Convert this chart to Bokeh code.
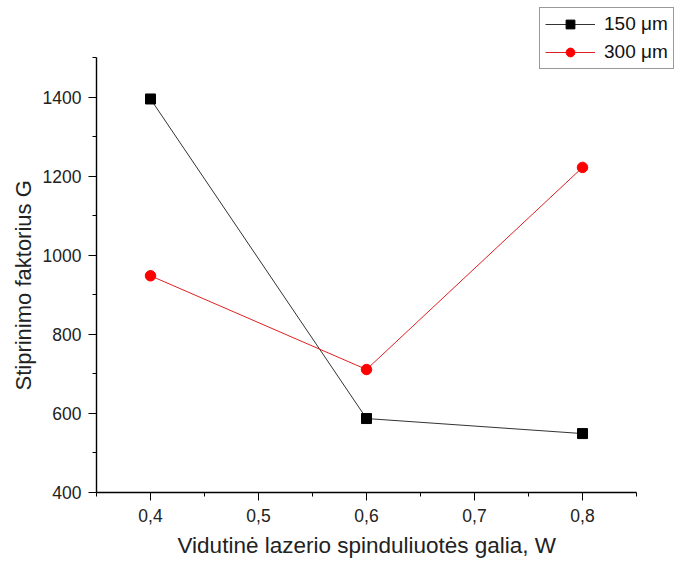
from bokeh.plotting import figure
from bokeh.models import (Range1d, FixedTicker, CustomJSTickFormatter, Legend,
                          LegendItem, Title)
from bokeh.embed import file_html
from bokeh.resources import INLINE

# Average laser power (W) and amplification factor G for two spot sizes
power = [0.4, 0.6, 0.8]
g_150 = [1395, 587, 549]
g_300 = [948, 711, 1222]
series_labels = ["150 \u03bcm", "300 \u03bcm"]

x_ticks = [0.4, 0.5, 0.6, 0.7, 0.8]
x_minor = [0.35, 0.45, 0.55, 0.65, 0.75, 0.85]
y_ticks = [400, 600, 800, 1000, 1200, 1400]
y_minor = [500, 700, 900, 1100, 1300, 1500]

FONT = "Liberation Sans"

# The frame reaches the top and right edges so the legend can sit in the
# corner; the visible axes are limited with bounds.
p = figure(width=683, height=568, output_backend="svg", toolbar_location=None,
           x_range=Range1d(0.35, 0.8935), y_range=Range1d(400, 1644),
           min_border_left=96, min_border_right=0, min_border_top=0,
           min_border_bottom=76)
p.outline_line_color = None
p.grid.visible = False
p.background_fill_color = "white"
p.border_fill_color = "white"

l1 = p.line(power, g_150, line_color="#333333", line_width=1)
m1 = p.scatter(power, g_150, marker="square", size=10, fill_color="black",
               line_color="black")
l2 = p.line(power, g_300, line_color="#e02020", line_width=1)
m2 = p.scatter(power, g_300, marker="circle", size=10.5, fill_color="#ff0000",
               line_color="#ff0000")

for ax in (p.xaxis[0], p.yaxis[0]):
    ax.axis_line_color = "black"
    ax.axis_line_width = 1.4
    ax.major_tick_in = 0
    ax.major_tick_out = 8
    ax.minor_tick_in = 0
    ax.minor_tick_out = 4
    ax.major_tick_line_color = "black"
    ax.minor_tick_line_color = "black"
    ax.major_label_text_font = FONT
    ax.major_label_text_font_size = "17.5px"
    ax.major_label_text_color = "#222222"

p.xaxis.bounds = (0.35, 0.85)
p.xaxis.ticker = FixedTicker(ticks=x_ticks, minor_ticks=x_minor)
p.xaxis.formatter = CustomJSTickFormatter(
    code="return tick.toFixed(1).replace('.', ',');")
p.xaxis.major_label_standoff = 8

p.yaxis.bounds = (400, 1500)
p.yaxis.ticker = FixedTicker(ticks=y_ticks, minor_ticks=y_minor)
p.yaxis.major_label_standoff = 7

# Axis titles, placed under the middle of the bounded axes
xlabel = Title(text="Vidutin\u0117 lazerio spinduliuot\u0117s galia, W",
               align="left", offset=81, standoff=13,
               text_font=FONT, text_font_size="22.5px",
               text_font_style="normal", text_color="#222222")
ylabel = Title(text="Stiprinimo faktorius G",
               align="left", offset=102, standoff=8,
               text_font=FONT, text_font_size="22px",
               text_font_style="normal", text_color="#222222")
p.add_layout(xlabel, "below")
p.add_layout(ylabel, "left")

legend = Legend(items=[LegendItem(label=series_labels[0], renderers=[l1, m1]),
                       LegendItem(label=series_labels[1], renderers=[l2, m2])],
                location=(443, 423), margin=0, padding=5, spacing=6,
                glyph_width=50, glyph_height=22, label_standoff=9,
                label_text_font=FONT, label_text_font_size="19px",
                label_text_color="#111111",
                border_line_color="#333333", border_line_width=1,
                background_fill_color="white", background_fill_alpha=1)
p.add_layout(legend)

open("out.html", "w").write(file_html(p, INLINE))
